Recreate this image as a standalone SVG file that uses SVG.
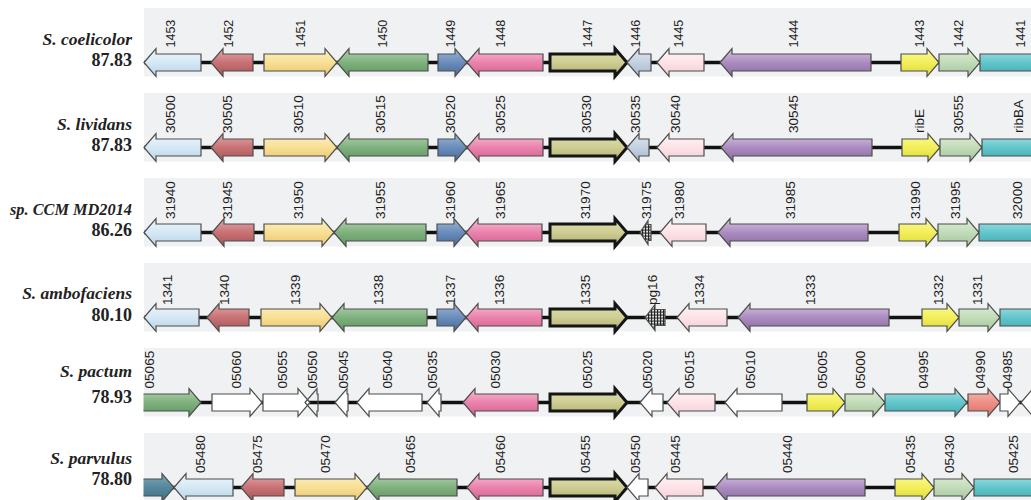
<svg xmlns="http://www.w3.org/2000/svg" width="1031" height="500" viewBox="0 0 1031 500">
<defs>
<linearGradient id="lb" x1="0" y1="0" x2="0" y2="1"><stop offset="0" stop-color="#eef6fc"/><stop offset="0.5" stop-color="#d5e8f5"/><stop offset="1" stop-color="#b9d3e6"/></linearGradient>
<linearGradient id="red" x1="0" y1="0" x2="0" y2="1"><stop offset="0" stop-color="#e6a8aa"/><stop offset="0.5" stop-color="#c87274"/><stop offset="1" stop-color="#a65456"/></linearGradient>
<linearGradient id="ylw" x1="0" y1="0" x2="0" y2="1"><stop offset="0" stop-color="#fdf0c4"/><stop offset="0.5" stop-color="#f7df95"/><stop offset="1" stop-color="#e8c56c"/></linearGradient>
<linearGradient id="grn" x1="0" y1="0" x2="0" y2="1"><stop offset="0" stop-color="#b3d4b0"/><stop offset="0.5" stop-color="#7fb17e"/><stop offset="1" stop-color="#5e945f"/></linearGradient>
<linearGradient id="blu" x1="0" y1="0" x2="0" y2="1"><stop offset="0" stop-color="#9fb7d6"/><stop offset="0.5" stop-color="#6a8dbb"/><stop offset="1" stop-color="#48699a"/></linearGradient>
<linearGradient id="pnk" x1="0" y1="0" x2="0" y2="1"><stop offset="0" stop-color="#f8bfd6"/><stop offset="0.5" stop-color="#eb82ad"/><stop offset="1" stop-color="#d0608e"/></linearGradient>
<linearGradient id="olv" x1="0" y1="0" x2="0" y2="1"><stop offset="0" stop-color="#e2e2b2"/><stop offset="0.5" stop-color="#cdcd94"/><stop offset="1" stop-color="#aeae6e"/></linearGradient>
<linearGradient id="stl" x1="0" y1="0" x2="0" y2="1"><stop offset="0" stop-color="#dde6f0"/><stop offset="0.5" stop-color="#c3d1e1"/><stop offset="1" stop-color="#a8b9cc"/></linearGradient>
<linearGradient id="lpk" x1="0" y1="0" x2="0" y2="1"><stop offset="0" stop-color="#fff5f7"/><stop offset="0.5" stop-color="#fde3e8"/><stop offset="1" stop-color="#efcdd4"/></linearGradient>
<linearGradient id="pur" x1="0" y1="0" x2="0" y2="1"><stop offset="0" stop-color="#d8c3e2"/><stop offset="0.5" stop-color="#ab8cc0"/><stop offset="1" stop-color="#8a6aa0"/></linearGradient>
<linearGradient id="yel" x1="0" y1="0" x2="0" y2="1"><stop offset="0" stop-color="#fbfa9a"/><stop offset="0.5" stop-color="#f2ef5a"/><stop offset="1" stop-color="#dcd83a"/></linearGradient>
<linearGradient id="lgr" x1="0" y1="0" x2="0" y2="1"><stop offset="0" stop-color="#deeed8"/><stop offset="0.5" stop-color="#c2dcb9"/><stop offset="1" stop-color="#a3c49a"/></linearGradient>
<linearGradient id="cyn" x1="0" y1="0" x2="0" y2="1"><stop offset="0" stop-color="#a6e3e6"/><stop offset="0.5" stop-color="#62c6cb"/><stop offset="1" stop-color="#3ea9ae"/></linearGradient>
<linearGradient id="sal" x1="0" y1="0" x2="0" y2="1"><stop offset="0" stop-color="#f9bcb4"/><stop offset="0.5" stop-color="#ee8f84"/><stop offset="1" stop-color="#d9716a"/></linearGradient>
<linearGradient id="teal" x1="0" y1="0" x2="0" y2="1"><stop offset="0" stop-color="#7fa7b8"/><stop offset="0.5" stop-color="#55879c"/><stop offset="1" stop-color="#3e6f83"/></linearGradient>
<pattern id="hatch" patternUnits="userSpaceOnUse" width="3" height="3"><rect width="3" height="3" fill="#fff"/><path d="M0,0.5h3M0.5,0v3" stroke="#222" stroke-width="1.3"/></pattern>
<clipPath id="clipL" clipPathUnits="userSpaceOnUse"><rect x="143.5" y="-60" width="900" height="90"/></clipPath>
<style>
.panel{fill:#f0f1f2}
.bb{stroke:#111;stroke-width:3.5}
.g{stroke:#4d4d4d;stroke-width:1.2;stroke-linejoin:miter}
.thick{stroke:#151515;stroke-width:3}
.w{fill:#fff}
.lbl{font-family:"Liberation Sans",Arial,sans-serif;fill:#1e1e1e}
.r1 .lbl{font-size:12.5px}
.lbl13{font-size:13.6px}
.sp{font-family:"Liberation Serif","Times New Roman",serif;font-weight:bold;font-style:italic;font-size:17.5px;fill:#222;text-anchor:end}
.pc{font-family:"Liberation Serif","Times New Roman",serif;font-weight:bold;font-size:18px;fill:#222;text-anchor:end}
</style>
</defs>
<rect width="1031" height="500" fill="#fff"/>
<g id="panels">
<rect class="panel" x="144" y="8" width="887" height="68.5"/>
<rect class="panel" x="144" y="93" width="887" height="68.5"/>
<rect class="panel" x="144" y="178" width="887" height="68.5"/>
<rect class="panel" x="144" y="263" width="887" height="68.5"/>
<rect class="panel" x="144" y="348" width="887" height="68.5"/>
<rect class="panel" x="144" y="433" width="887" height="68.5"/>
</g>
<g id="row-labels">
<text class="sp" x="132" y="45">S. coelicolor</text><text class="pc" x="132" y="66">87.83</text>
<text class="sp" x="132" y="130">S. lividans</text><text class="pc" x="132" y="151">87.83</text>
<text class="sp" x="132" y="215" textLength="122" lengthAdjust="spacingAndGlyphs">sp. CCM MD2014</text><text class="pc" x="132" y="236">86.26</text>
<text class="sp" x="132" y="299">S. ambofaciens</text><text class="pc" x="132" y="321">80.10</text>
<text class="sp" x="132" y="377">S. pactum</text><text class="pc" x="132" y="403">78.93</text>
<text class="sp" x="132" y="464">S. parvulus</text><text class="pc" x="132" y="485">78.80</text>
</g>
<g id="connectors">
<line class="bb" x1="144" y1="62.5" x2="1031" y2="62.5"/>
<line class="bb" x1="144" y1="147.5" x2="1031" y2="147.5"/>
<line class="bb" x1="144" y1="232.5" x2="1031" y2="232.5"/>
<line class="bb" x1="144" y1="317.5" x2="1031" y2="317.5"/>
<line class="bb" x1="144" y1="402.5" x2="1031" y2="402.5"/>
<line class="bb" x1="144" y1="487.5" x2="1031" y2="487.5"/>
</g>

<g id="row1" class="r1" transform="translate(0,62.5)">
<g id="g1453"><path class="g" fill="url(#lb)" d="M144,0l12,-14v5.5h45v17h-45v5.5z"/><text class="lbl" transform="translate(174.5,-15) rotate(-90)">1453</text></g>
<g id="g1452"><path class="g" fill="url(#red)" d="M211,0l12,-14v5.5h30v17h-30v5.5z"/><text class="lbl" transform="translate(232.5,-15) rotate(-90)">1452</text></g>
<g id="g1451"><path class="g" fill="url(#ylw)" d="M264,-8.5h61v-5.5l12,14l-12,14v-5.5h-61z"/><text class="lbl" transform="translate(304.5,-15) rotate(-90)">1451</text></g>
<g id="g1450"><path class="g" fill="url(#grn)" d="M337,0l12,-14v5.5h79v17h-79v5.5z"/><text class="lbl" transform="translate(386.5,-15) rotate(-90)">1450</text></g>
<g id="g1449"><path class="g" fill="url(#blu)" d="M438,-8.5h17v-5.5l12,14l-12,14v-5.5h-17z"/><text class="lbl" transform="translate(454.5,-15) rotate(-90)">1449</text></g>
<g id="g1448"><path class="g" fill="url(#pnk)" d="M467,0l12,-14v5.5h64v17h-64v5.5z"/><text class="lbl" transform="translate(504.5,-15) rotate(-90)">1448</text></g>
<g id="g1447"><path class="g thick" fill="url(#olv)" d="M550,-8.5h65v-5.5l12,14l-12,14v-5.5h-65z"/><text class="lbl" transform="translate(591.5,-15) rotate(-90)">1447</text></g>
<g id="g1446"><path class="g" fill="url(#stl)" d="M627,0l12,-14v5.5h12v17h-12v5.5z"/><text class="lbl" transform="translate(639.5,-15) rotate(-90)">1446</text></g>
<g id="g1445"><path class="g" fill="url(#lpk)" d="M657,0l12,-14v5.5h35v17h-35v5.5z"/><text class="lbl" transform="translate(682.5,-15) rotate(-90)">1445</text></g>
<g id="g1444"><path class="g" fill="url(#pur)" d="M720,0l12,-14v5.5h139v17h-139v5.5z"/><text class="lbl" transform="translate(797.5,-15) rotate(-90)">1444</text></g>
<g id="g1443"><path class="g" fill="url(#yel)" d="M901,-8.5h26v-5.5l12,14l-12,14v-5.5h-26z"/><text class="lbl" transform="translate(923.5,-15) rotate(-90)">1443</text></g>
<g id="g1442"><path class="g" fill="url(#lgr)" d="M939,-8.5h29v-5.5l12,14l-12,14v-5.5h-29z"/><text class="lbl" transform="translate(962.5,-15) rotate(-90)">1442</text></g>
<g id="g1441"><path class="g" fill="url(#cyn)" d="M980,-8.5h68v-5.5l12,14l-12,14v-5.5h-68z"/><text class="lbl" transform="translate(1024.5,-15) rotate(-90)">1441</text></g>
</g>

<g id="row2" transform="translate(0,147.5)">
<g id="g30500"><path class="g" fill="url(#lb)" d="M144,0l12,-14v5.5h45v17h-45v5.5z"/><text class="lbl lbl13" transform="translate(174.5,-14.5) rotate(-90)">30500</text></g>
<g id="g30505"><path class="g" fill="url(#red)" d="M211,0l12,-14v5.5h30v17h-30v5.5z"/><text class="lbl lbl13" transform="translate(231.5,-14.5) rotate(-90)">30505</text></g>
<g id="g30510"><path class="g" fill="url(#ylw)" d="M264,-8.5h61v-5.5l12,14l-12,14v-5.5h-61z"/><text class="lbl lbl13" transform="translate(302.5,-14.5) rotate(-90)">30510</text></g>
<g id="g30515"><path class="g" fill="url(#grn)" d="M337,0l12,-14v5.5h79v17h-79v5.5z"/><text class="lbl lbl13" transform="translate(384.5,-14.5) rotate(-90)">30515</text></g>
<g id="g30520"><path class="g" fill="url(#blu)" d="M438,-8.5h17v-5.5l12,14l-12,14v-5.5h-17z"/><text class="lbl lbl13" transform="translate(454.5,-14.5) rotate(-90)">30520</text></g>
<g id="g30525"><path class="g" fill="url(#pnk)" d="M467,0l12,-14v5.5h64v17h-64v5.5z"/><text class="lbl lbl13" transform="translate(504.5,-14.5) rotate(-90)">30525</text></g>
<g id="g30530"><path class="g thick" fill="url(#olv)" d="M550,-8.5h65v-5.5l12,14l-12,14v-5.5h-65z"/><text class="lbl lbl13" transform="translate(590.5,-14.5) rotate(-90)">30530</text></g>
<g id="g30535"><path class="g" fill="url(#stl)" d="M627,0l12,-14v5.5h10v17h-10v5.5z"/><text class="lbl lbl13" transform="translate(639.5,-14.5) rotate(-90)">30535</text></g>
<g id="g30540"><path class="g" fill="url(#lpk)" d="M657,0l12,-14v5.5h35v17h-35v5.5z"/><text class="lbl lbl13" transform="translate(679.5,-14.5) rotate(-90)">30540</text></g>
<g id="g30545"><path class="g" fill="url(#pur)" d="M721,0l12,-14v5.5h139v17h-139v5.5z"/><text class="lbl lbl13" transform="translate(797.5,-14.5) rotate(-90)">30545</text></g>
<g id="gribE"><path class="g" fill="url(#yel)" d="M902,-8.5h26v-5.5l12,14l-12,14v-5.5h-26z"/><text class="lbl lbl13" transform="translate(923.5,-14.5) rotate(-90)">ribE</text></g>
<g id="g30555"><path class="g" fill="url(#lgr)" d="M940,-8.5h30v-5.5l12,14l-12,14v-5.5h-30z"/><text class="lbl lbl13" transform="translate(962.5,-14.5) rotate(-90)">30555</text></g>
<g id="gribBA"><path class="g" fill="url(#cyn)" d="M982,-8.5h66v-5.5l12,14l-12,14v-5.5h-66z"/><text class="lbl lbl13" transform="translate(1022.5,-14.5) rotate(-90)">ribBA</text></g>
</g>

<g id="row3" transform="translate(0,232.5)">
<g id="g31940"><path class="g" fill="url(#lb)" d="M144,0l12,-14v5.5h45v17h-45v5.5z"/><text class="lbl lbl13" transform="translate(174.5,-13.5) rotate(-90)">31940</text></g>
<g id="g31945"><path class="g" fill="url(#red)" d="M212,0l12,-14v5.5h30v17h-30v5.5z"/><text class="lbl lbl13" transform="translate(231.5,-13.5) rotate(-90)">31945</text></g>
<g id="g31950"><path class="g" fill="url(#ylw)" d="M264,-8.5h58v-5.5l12,14l-12,14v-5.5h-58z"/><text class="lbl lbl13" transform="translate(302.5,-13.5) rotate(-90)">31950</text></g>
<g id="g31955"><path class="g" fill="url(#grn)" d="M334,0l12,-14v5.5h80v17h-80v5.5z"/><text class="lbl lbl13" transform="translate(384.5,-13.5) rotate(-90)">31955</text></g>
<g id="g31960"><path class="g" fill="url(#blu)" d="M437,-8.5h17v-5.5l12,14l-12,14v-5.5h-17z"/><text class="lbl lbl13" transform="translate(454.5,-13.5) rotate(-90)">31960</text></g>
<g id="g31965"><path class="g" fill="url(#pnk)" d="M466,0l12,-14v5.5h64v17h-64v5.5z"/><text class="lbl lbl13" transform="translate(504.5,-13.5) rotate(-90)">31965</text></g>
<g id="g31970"><path class="g thick" fill="url(#olv)" d="M550,-8.5h65v-5.5l12,14l-12,14v-5.5h-65z"/><text class="lbl lbl13" transform="translate(589.5,-13.5) rotate(-90)">31970</text></g>
<g id="g31975"><path class="g" fill="url(#hatch)" d="M640,0l8,-12v4h3v16h-3v4z"/><text class="lbl lbl13" transform="translate(650.5,-13.5) rotate(-90)">31975</text></g>
<g id="g31980"><path class="g" fill="url(#lpk)" d="M660,0l12,-14v5.5h34v17h-34v5.5z"/><text class="lbl lbl13" transform="translate(683.5,-13.5) rotate(-90)">31980</text></g>
<g id="g31985"><path class="g" fill="url(#pur)" d="M718,0l12,-14v5.5h138v17h-138v5.5z"/><text class="lbl lbl13" transform="translate(794.5,-13.5) rotate(-90)">31985</text></g>
<g id="g31990"><path class="g" fill="url(#yel)" d="M899,-8.5h27v-5.5l12,14l-12,14v-5.5h-27z"/><text class="lbl lbl13" transform="translate(919.5,-13.5) rotate(-90)">31990</text></g>
<g id="g31995"><path class="g" fill="url(#lgr)" d="M938,-8.5h29v-5.5l12,14l-12,14v-5.5h-29z"/><text class="lbl lbl13" transform="translate(959.5,-13.5) rotate(-90)">31995</text></g>
<g id="g32000"><path class="g" fill="url(#cyn)" d="M979,-8.5h69v-5.5l12,14l-12,14v-5.5h-69z"/><text class="lbl lbl13" transform="translate(1021.5,-13.5) rotate(-90)">32000</text></g>
</g>

<g id="row4" transform="translate(0,317.5)">
<g id="g1341"><path class="g" fill="url(#lb)" d="M144,0l12,-14v5.5h43v17h-43v5.5z"/><text class="lbl lbl13" transform="translate(171.5,-12.5) rotate(-90)">1341</text></g>
<g id="g1340"><path class="g" fill="url(#red)" d="M207,0l12,-14v5.5h30v17h-30v5.5z"/><text class="lbl lbl13" transform="translate(228.5,-12.5) rotate(-90)">1340</text></g>
<g id="g1339"><path class="g" fill="url(#ylw)" d="M261,-8.5h59v-5.5l12,14l-12,14v-5.5h-59z"/><text class="lbl lbl13" transform="translate(299.5,-12.5) rotate(-90)">1339</text></g>
<g id="g1338"><path class="g" fill="url(#grn)" d="M332,0l12,-14v5.5h83v17h-83v5.5z"/><text class="lbl lbl13" transform="translate(382.5,-12.5) rotate(-90)">1338</text></g>
<g id="g1337"><path class="g" fill="url(#blu)" d="M437,-8.5h17v-5.5l12,14l-12,14v-5.5h-17z"/><text class="lbl lbl13" transform="translate(454.5,-12.5) rotate(-90)">1337</text></g>
<g id="g1336"><path class="g" fill="url(#pnk)" d="M466,0l12,-14v5.5h64v17h-64v5.5z"/><text class="lbl lbl13" transform="translate(503.5,-12.5) rotate(-90)">1336</text></g>
<g id="g1335"><path class="g thick" fill="url(#olv)" d="M550,-8.5h65v-5.5l12,14l-12,14v-5.5h-65z"/><text class="lbl lbl13" transform="translate(589.5,-12.5) rotate(-90)">1335</text></g>
<g id="gpg16"><path class="g" fill="url(#hatch)" d="M645,0l10,-13v5h10v16h-10v5z"/><text class="lbl lbl13" transform="translate(656.5,-12.5) rotate(-90)">pg16</text></g>
<g id="g1334"><path class="g" fill="url(#lpk)" d="M677,0l12,-14v5.5h38v17h-38v5.5z"/><text class="lbl lbl13" transform="translate(703.5,-12.5) rotate(-90)">1334</text></g>
<g id="g1333"><path class="g" fill="url(#pur)" d="M738,0l12,-14v5.5h139v17h-139v5.5z"/><text class="lbl lbl13" transform="translate(814.5,-12.5) rotate(-90)">1333</text></g>
<g id="g1332"><path class="g" fill="url(#yel)" d="M922,-8.5h25v-5.5l12,14l-12,14v-5.5h-25z"/><text class="lbl lbl13" transform="translate(942.5,-12.5) rotate(-90)">1332</text></g>
<g id="g1331"><path class="g" fill="url(#lgr)" d="M959,-8.5h29v-5.5l12,14l-12,14v-5.5h-29z"/><text class="lbl lbl13" transform="translate(981.5,-12.5) rotate(-90)">1331</text></g>
<g id="g1330"><path class="g" fill="url(#cyn)" d="M1000,-8.5h48v-5.5l12,14l-12,14v-5.5h-48z"/></g>
</g>

<g id="row5" transform="translate(0,402.5)">
<g id="g05065"><path class="g" clip-path="url(#clipL)" fill="url(#grn)" d="M130,-8.5h59v-5.5l12,14l-12,14v-5.5h-59z"/><text class="lbl lbl13" transform="translate(153.5,-14) rotate(-90)">05065</text></g>
<g id="g05060"><path class="g w" d="M212,-8.5h38v-5.5l12,14l-12,14v-5.5h-38z"/><text class="lbl lbl13" transform="translate(240.5,-14) rotate(-90)">05060</text></g>
<g id="g05055"><path class="g w" d="M263,-8.5h35v-5.5l12,14l-12,14v-5.5h-35z"/><text class="lbl lbl13" transform="translate(286.5,-14) rotate(-90)">05055</text></g>
<g id="g05050"><path class="g w" fill-opacity="0" d="M305,0l12,-14v5.5h1v17h-1v5.5z"/><text class="lbl lbl13" transform="translate(316.5,-14) rotate(-90)">05050</text></g>
<g id="g05045"><path class="g w" d="M335,0l12,-14v5.5h1v17h-1v5.5z"/><text class="lbl lbl13" transform="translate(347.5,-14) rotate(-90)">05045</text></g>
<g id="g05040"><path class="g w" d="M357,0l12,-14v5.5h53v17h-53v5.5z"/><text class="lbl lbl13" transform="translate(391.5,-14) rotate(-90)">05040</text></g>
<g id="g05035"><path class="g w" d="M427,0l12,-14v5.5h2v17h-2v5.5z"/><text class="lbl lbl13" transform="translate(436.5,-14) rotate(-90)">05035</text></g>
<g id="g05030"><path class="g" fill="url(#pnk)" d="M463,0l12,-14v5.5h63v17h-63v5.5z"/><text class="lbl lbl13" transform="translate(499.5,-14) rotate(-90)">05030</text></g>
<g id="g05025"><path class="g thick" fill="url(#olv)" d="M550,-8.5h65v-5.5l12,14l-12,14v-5.5h-65z"/><text class="lbl lbl13" transform="translate(591.5,-14) rotate(-90)">05025</text></g>
<g id="g05020"><path class="g w" d="M640,0l12,-14v5.5h11v17h-11v5.5z"/><text class="lbl lbl13" transform="translate(651.5,-14) rotate(-90)">05020</text></g>
<g id="g05015"><path class="g" fill="url(#lpk)" d="M667,0l12,-14v5.5h36v17h-36v5.5z"/><text class="lbl lbl13" transform="translate(693.5,-14) rotate(-90)">05015</text></g>
<g id="g05010"><path class="g w" d="M725,0l12,-14v5.5h45v17h-45v5.5z"/><text class="lbl lbl13" transform="translate(754.5,-14) rotate(-90)">05010</text></g>
<g id="g05005"><path class="g" fill="url(#yel)" d="M807,-8.5h26v-5.5l12,14l-12,14v-5.5h-26z"/><text class="lbl lbl13" transform="translate(826.5,-14) rotate(-90)">05005</text></g>
<g id="g05000"><path class="g" fill="url(#lgr)" d="M845,-8.5h28v-5.5l12,14l-12,14v-5.5h-28z"/><text class="lbl lbl13" transform="translate(864.5,-14) rotate(-90)">05000</text></g>
<g id="g04995"><path class="g" fill="url(#cyn)" d="M885,-8.5h70v-5.5l12,14l-12,14v-5.5h-70z"/><text class="lbl lbl13" transform="translate(927.5,-14) rotate(-90)">04995</text></g>
<g id="g04990"><path class="g" fill="url(#sal)" d="M968,-8.5h20v-5.5l12,14l-12,14v-5.5h-20z"/><text class="lbl lbl13" transform="translate(984.5,-14) rotate(-90)">04990</text></g>
<g id="g04985"><path class="g w" d="M1000,-8.5h8v-5.5l12,14l-12,14v-5.5h-8z"/><text class="lbl lbl13" transform="translate(1011.5,-14) rotate(-90)">04985</text></g>
<g id="g04980"><path class="g w" d="M1021,0l12,-14v5.5h49v17h-49v5.5z"/></g>
</g>

<g id="row6" transform="translate(0,487.5)">
<g id="g05485"><path class="g" clip-path="url(#clipL)" fill="url(#teal)" d="M120,-8.5h42v-5.5l12,14l-12,14v-5.5h-42z"/></g>
<g id="g05480"><path class="g" fill="url(#lb)" d="M174,0l12,-14v5.5h47v17h-47v5.5z"/><text class="lbl lbl13" transform="translate(204.5,-14.5) rotate(-90)">05480</text></g>
<g id="g05475"><path class="g" fill="url(#red)" d="M241,0l12,-14v5.5h31v17h-31v5.5z"/><text class="lbl lbl13" transform="translate(261.5,-14.5) rotate(-90)">05475</text></g>
<g id="g05470"><path class="g" fill="url(#ylw)" d="M295,-8.5h60v-5.5l12,14l-12,14v-5.5h-60z"/><text class="lbl lbl13" transform="translate(329.5,-14.5) rotate(-90)">05470</text></g>
<g id="g05465"><path class="g" fill="url(#grn)" d="M367,0l12,-14v5.5h78v17h-78v5.5z"/><text class="lbl lbl13" transform="translate(414.5,-14.5) rotate(-90)">05465</text></g>
<g id="g05460"><path class="g" fill="url(#pnk)" d="M467,0l12,-14v5.5h64v17h-64v5.5z"/><text class="lbl lbl13" transform="translate(504.5,-14.5) rotate(-90)">05460</text></g>
<g id="g05455"><path class="g thick" fill="url(#olv)" d="M550,-8.5h65v-5.5l12,14l-12,14v-5.5h-65z"/><text class="lbl lbl13" transform="translate(589.5,-14.5) rotate(-90)">05455</text></g>
<g id="g05450"><path class="g w" d="M627,0l12,-14v5.5h9v17h-9v5.5z"/><text class="lbl lbl13" transform="translate(639.5,-14.5) rotate(-90)">05450</text></g>
<g id="g05445"><path class="g" fill="url(#lpk)" d="M655,0l12,-14v5.5h36v17h-36v5.5z"/><text class="lbl lbl13" transform="translate(679.5,-14.5) rotate(-90)">05445</text></g>
<g id="g05440"><path class="g" fill="url(#pur)" d="M715,0l12,-14v5.5h138v17h-138v5.5z"/><text class="lbl lbl13" transform="translate(791.5,-14.5) rotate(-90)">05440</text></g>
<g id="g05435"><path class="g" fill="url(#yel)" d="M895,-8.5h27v-5.5l12,14l-12,14v-5.5h-27z"/><text class="lbl lbl13" transform="translate(914.5,-14.5) rotate(-90)">05435</text></g>
<g id="g05430"><path class="g" fill="url(#lgr)" d="M934,-8.5h28v-5.5l12,14l-12,14v-5.5h-28z"/><text class="lbl lbl13" transform="translate(953.5,-14.5) rotate(-90)">05430</text></g>
<g id="g05425"><path class="g" fill="url(#cyn)" d="M974,-8.5h74v-5.5l12,14l-12,14v-5.5h-74z"/><text class="lbl lbl13" transform="translate(1017.5,-14.5) rotate(-90)">05425</text></g>
</g>
</svg>
